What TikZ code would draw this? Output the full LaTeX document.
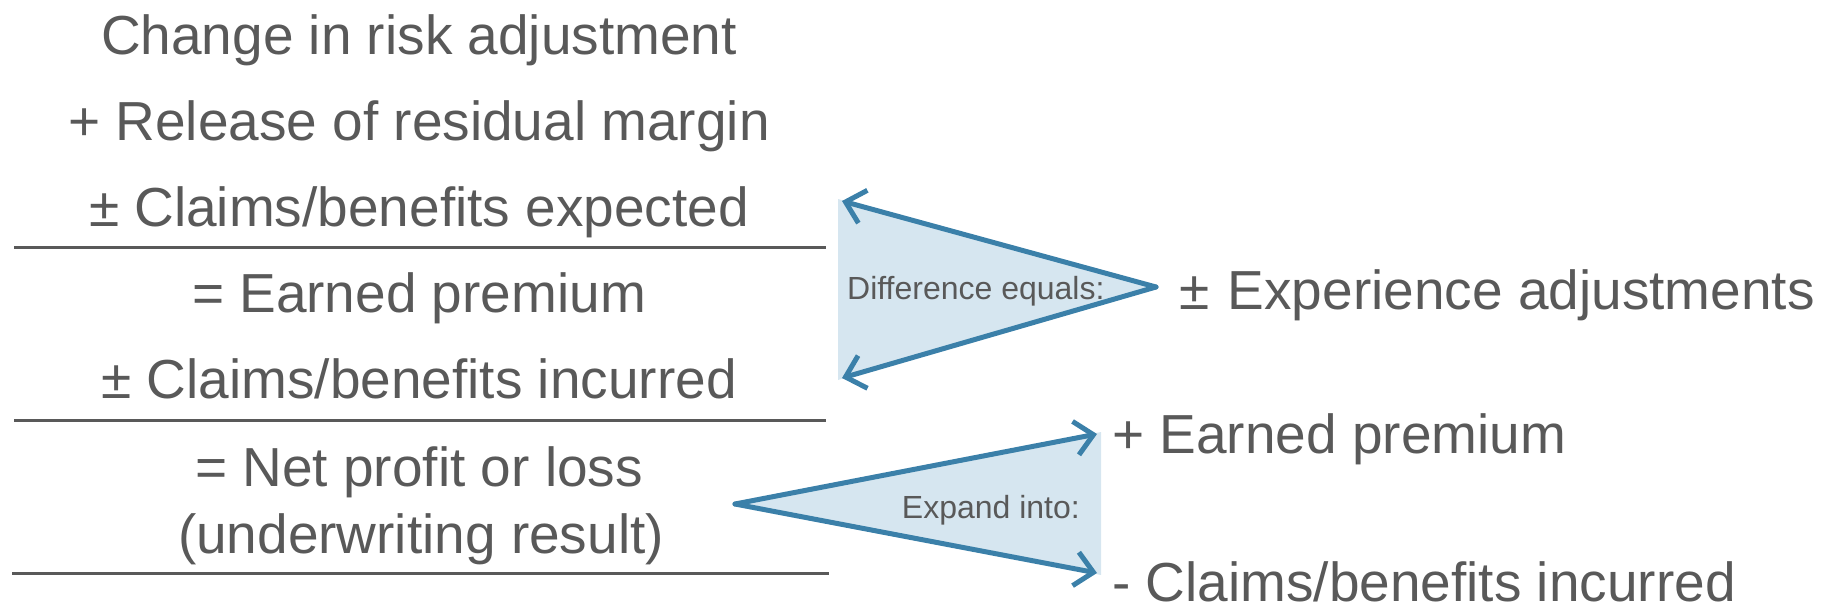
\documentclass[tikz,border=0pt]{standalone}
\usepackage{fontspec}
\setmainfont{Liberation Sans}
\usetikzlibrary{arrows.meta}
\definecolor{txtgray}{HTML}{595959}
\definecolor{arrblue}{HTML}{3B80A9}
\definecolor{trifill}{HTML}{D6E6F0}
\tikzset{
  big/.style={text=txtgray, inner sep=0pt, font=\fontsize{55}{60}\selectfont},
  small/.style={text=txtgray, inner sep=0pt, font=\fontsize{32}{36}\selectfont},
  rule/.style={draw=txtgray, line width=3pt},
  arr/.style={draw=arrblue, line width=5pt, line cap=round, line join=round, -{Straight Barb[length=18pt,width=34pt,line width=5pt]}},
  tri/.style={fill=trifill}
}
\begin{document}
\begin{tikzpicture}[x=1pt,y=-1pt]
\useasboundingbox (0,0) rectangle (1825,613);
% left column
\node[big, anchor=base] (r1) at (419,54) {Change in risk adjustment};
\node[big, anchor=base] (r2) at (419,140) {+ Release of residual margin};
\node[big, anchor=base] (r3) at (419,226) {± Claims/benefits expected};
\node[big, anchor=base] (r4) at (419,312) {= Earned premium};
\node[big, anchor=base] (r5) at (419,398) {± Claims/benefits incurred};
\node[big, anchor=base] (r6) at (419,486) {= Net profit or loss};
\node[big, anchor=base] (r7) at (421,553) {(underwriting result)};
\coordinate (l1a) at (14,247); \coordinate (l1b) at (826,247);
\coordinate (l2a) at (14,420); \coordinate (l2b) at (826,420);
\coordinate (l3a) at (12,573); \coordinate (l3b) at (829,573);
\draw[rule] (l1a) -- (l1b);
\draw[rule] (l2a) -- (l2b);
\draw[rule] (l3a) -- (l3b);
% triangle 1
\coordinate (a1) at (1156,287);
\coordinate (t1) at (842,201);
\coordinate (b1) at (842,378);
\fill[tri] (838,199) -- (a1) -- (838,380) -- cycle;
\draw[arr] (a1) -- (t1);
\draw[arr] (a1) -- (b1);
\node[small, anchor=base west] (d1) at (847,299) {Difference equals:};
\node[big, anchor=base west] (e1) at (1179,309) {±\,\,Experience adjustments};
% triangle 2
\coordinate (a2) at (735,504);
\coordinate (t2) at (1097,434);
\coordinate (b2) at (1097,573);
\fill[tri] (a2) -- (1101,432) -- (1101,575) -- cycle;
\draw[arr] (a2) -- (t2);
\draw[arr] (a2) -- (b2);
\node[small, anchor=base east] (d2) at (1080,518) {Expand into:};
\node[big, anchor=base west] (e2) at (1112,453) {+ Earned premium};
\node[big, anchor=base west] (e3) at (1112,601) {- Claims/benefits incurred};
\end{tikzpicture}
\end{document}
